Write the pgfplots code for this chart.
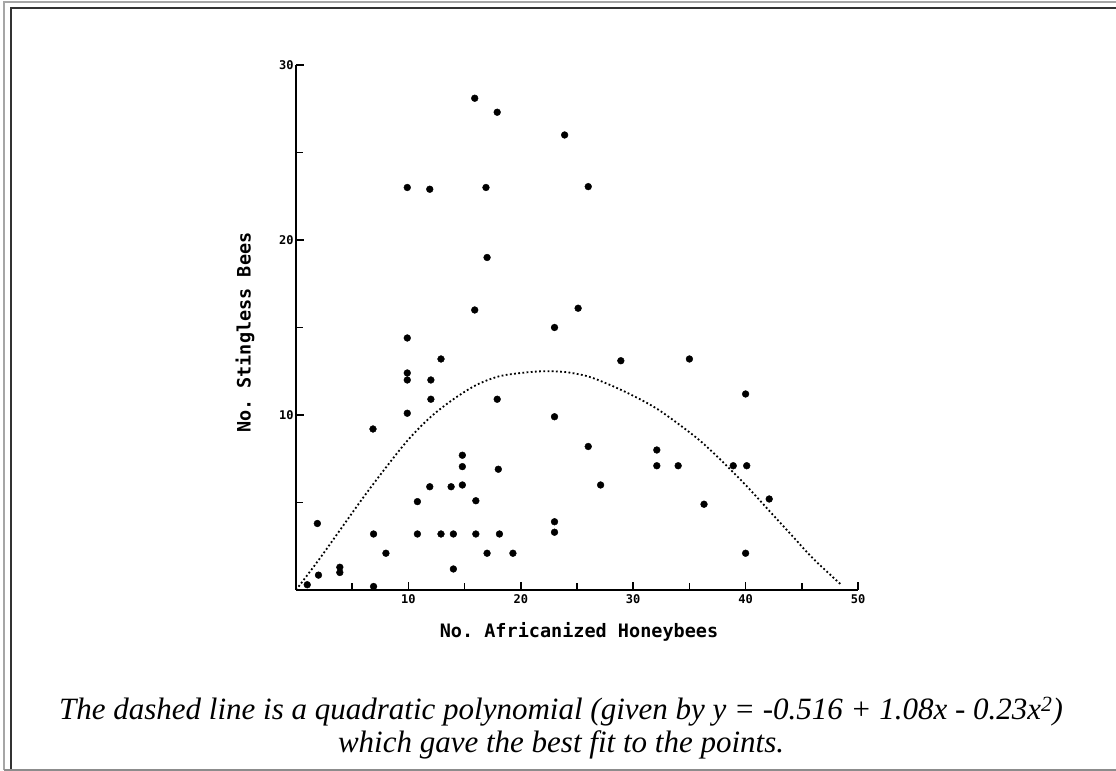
\documentclass[border=0pt]{standalone}
\usepackage{fontspec}
\setmainfont{Liberation Serif}
\setmonofont{DejaVu Sans Mono}
\usepackage{pgfplots}
\pgfplotsset{compat=1.18}
\begin{document}
\begin{tikzpicture}[x=1bp,y=1bp]
\useasboundingbox (0,0) rectangle (1116,771);
% frame
\draw[line width=2bp, color=black!35] (4,1) -- (4,769) -- (1116,769);
\draw[line width=2bp, color=black!80] (11,1) -- (11,763) -- (1116,763);
\draw[line width=1.5bp, color=black!45] (4,1) -- (1116,1);
\begin{axis}[
  at={(296bp,181bp)}, anchor=south west,
  scale only axis, width=562bp, height=525bp,
  xmin=0, xmax=50, ymin=0, ymax=30,
  axis x line=bottom, axis y line=left,
  axis line style={-, line width=2bp},
  tick align=inside,
  xtick={10,20,30,40,50}, minor xtick={5,15,25,35,45},
  ytick={10,20,30}, minor ytick={5,15,25},
  major tick length=8bp, minor tick length=7bp,
  tick style={line width=1.6bp, black},
  /pgf/number format/assume math mode=true,
  ticklabel style={font=\ttfamily\bfseries\fontsize{12bp}{12bp}\selectfont},
  xticklabel style={yshift=-1bp},
  yticklabel style={xshift=1bp},
  xlabel={No. Africanized Honeybees},
  ylabel={No. Stingless Bees},
  label style={font=\ttfamily\bfseries\fontsize{18.5bp}{18.5bp}\selectfont},
  xlabel style={at={(axis description cs:0.5036,0)}, yshift=-42bp, anchor=center},
  ylabel style={at={(axis description cs:-0.0907,0.49)}, anchor=center},
  clip=false,
]
\addplot[only marks, mark=*, mark size=3.4bp, black] coordinates {
(15.9,28.1) (17.9,27.3) (23.9,26.0) (9.9,23.0) (11.9,22.9) (16.9,23.0) (26.0,23.05)
(17.0,19.0) (15.9,16.0) (25.1,16.1) (23.0,15.0) (9.9,14.4) (12.9,13.2) (9.9,12.4)
(9.9,12.0) (12.0,12.0) (12.0,10.9) (17.9,10.9) (9.9,10.1) (23.0,9.9) (6.85,9.2)
(14.8,7.7) (14.8,7.05) (18.0,6.9) (11.9,5.9) (13.8,5.9) (14.8,6.0) (10.8,5.05)
(16.0,5.1) (1.9,3.8) (6.9,3.2) (10.8,3.2) (12.9,3.2) (14.0,3.2) (16.0,3.2) (18.1,3.2)
(23.0,3.9) (23.0,3.3) (8.0,2.1) (17.0,2.1) (19.3,2.1) (3.9,1.3) (3.9,1.0) (14.0,1.2)
(2.0,0.85) (6.9,0.2) (1.0,0.3) (28.9,13.1) (35.0,13.2) (40.0,11.2) (26.0,8.2) (32.1,8.0)
(32.1,7.1) (34.0,7.1) (38.9,7.1) (40.1,7.1) (27.1,6.0) (36.3,4.9) (42.1,5.2) (40.0,2.1)
};
\addplot[black, line width=1.8bp, dash pattern=on 1.8bp off 2.4bp, smooth] coordinates {
(0,0) (2,1.7) (4,3.5) (6,5.3) (8,7.0) (10,8.6) (12,9.9) (14,10.9) (16,11.7) (18,12.2)
(20,12.4) (22,12.5) (24,12.45) (26,12.2) (28,11.7) (30,11.1) (32,10.4) (34,9.5)
(36,8.5) (38,7.3) (40,6.0) (42,4.6) (44,3.2) (46,1.8) (48.5,0.3)
};
\end{axis}
\node[anchor=base, font=\itshape\fontsize{31bp}{31bp}\selectfont] at (561,51)
  {The dashed line is a quadratic polynomial (given by y = -0.516 + 1.08x - 0.23x\textsuperscript{2})};
\node[anchor=base, font=\itshape\fontsize{31bp}{31bp}\selectfont] at (561,18)
  {which gave the best fit to the points.};
\end{tikzpicture}
\end{document}
